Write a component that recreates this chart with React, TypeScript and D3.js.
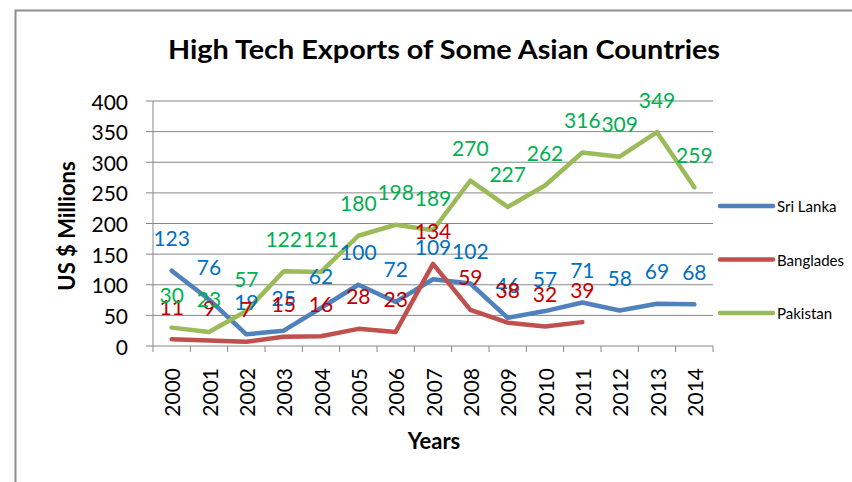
import React from 'react';
import * as d3 from 'd3';

const years = ['2000', '2001', '2002', '2003', '2004', '2005', '2006', '2007', '2008', '2009', '2010', '2011', '2012', '2013', '2014'];
const sriLanka = [123, 76, 19, 25, 62, 100, 72, 109, 102, 46, 57, 71, 58, 69, 68];
const bangladesh = [11, 9, 7, 15, 16, 28, 23, 134, 59, 38, 32, 39];
const pakistan = [30, 23, 57, 122, 121, 180, 198, 189, 270, 227, 262, 316, 309, 349, 259];
const yTicks = [0, 50, 100, 150, 200, 250, 300, 350, 400];

const series = [
    { name: 'Sri Lanka', values: sriLanka, line: '#4f81bd', label: '#0070c0' },
    { name: 'Banglades', values: bangladesh, line: '#c0504d', label: '#c00000' },
    { name: 'Pakistan', values: pakistan, line: '#9bbb59', label: '#00b050' },
];

const font = 'Lato, "Open Sans", sans-serif';

const App = () => {
    const plot = { left: 153, right: 713, top: 101, bottom: 346 };

    const x = d3.scaleBand().domain(years).range([plot.left, plot.right]).padding(0);
    const y = d3.scaleLinear().domain([0, 400]).range([plot.bottom, plot.top]);
    const cx = (yr: string) => (x(yr) as number) + x.bandwidth() / 2;

    const line = d3.line<[string, number]>()
        .x(d => cx(d[0]))
        .y(d => y(d[1]));

    const bounds = years.map(yr => x(yr) as number).concat([plot.right]);

    return (
        <svg width={852} height={482} style={{ position: 'absolute', left: 0, top: 0, fontFamily: font }}>
            <rect x={0} y={0} width={852} height={482} fill="#fff" />
            <rect x={15.5} y={10.5} width={900} height={600} fill="none" stroke="#8c8c8c" strokeWidth={2} />

            <text x={444} y={48} textAnchor="middle" dominantBaseline="central" fontWeight="bold" fontSize={27}
                textLength={552} lengthAdjust="spacingAndGlyphs">
                High Tech Exports of Some Asian Countries
            </text>

            {/* grid */}
            {yTicks.filter(t => t > 0).map(t => (
                <line key={t} x1={plot.left - 7} x2={plot.right} y1={y(t)} y2={y(t)} stroke="#878787" strokeWidth={1} />
            ))}
            {yTicks.map(t => (
                <text key={'yt' + t} x={128} y={y(t)} textAnchor="end" dominantBaseline="central" fontSize={21}>{t}</text>
            ))}

            {/* axes */}
            <line x1={plot.left} x2={plot.left} y1={plot.top} y2={plot.bottom} stroke="#878787" />
            <line x1={plot.left - 7} x2={plot.right} y1={plot.bottom} y2={plot.bottom} stroke="#878787" />
            {bounds.map((b, i) => (
                <line key={'xt' + i} x1={b} x2={b} y1={plot.bottom} y2={plot.bottom + 6} stroke="#878787" />
            ))}
            {years.map(yr => (
                <text key={'xl' + yr} transform={`translate(${cx(yr)},368) rotate(-90)`} textAnchor="end"
                    dominantBaseline="central" fontSize={21}>{yr}</text>
            ))}

            <text x={434} y={440} textAnchor="middle" dominantBaseline="central" fontWeight="bold" fontSize={22}>Years</text>
            <text transform="translate(66,226) rotate(-90)" textAnchor="middle" dominantBaseline="central"
                fontWeight="bold" fontSize={22}>US $ Millions</text>

            {/* lines */}
            {series.map(s => (
                <path key={s.name} d={line(s.values.map((v, i) => [years[i], v] as [string, number])) || ''}
                    fill="none" stroke={s.line} strokeWidth={4.5} strokeLinejoin="round" strokeLinecap="round" />
            ))}

            {/* data labels */}
            {series.map(s => s.values.map((v, i) => (
                <text key={s.name + i} x={cx(years[i])} y={y(v) - 33} textAnchor="middle" dominantBaseline="central"
                    fontSize={21} fill={s.label}>{v}</text>
            )))}

            {/* legend */}
            {series.map((s, i) => (
                <g key={'lg' + s.name} transform={`translate(720,${206 + i * 53.5})`}>
                    <line x1={0} x2={53} y1={0} y2={0} stroke={s.line} strokeWidth={4.5} strokeLinecap="round" />
                    <text x={57} y={0} dominantBaseline="central" fontSize={15}>{s.name}</text>
                </g>
            ))}
        </svg>
    );
};

export default App;
